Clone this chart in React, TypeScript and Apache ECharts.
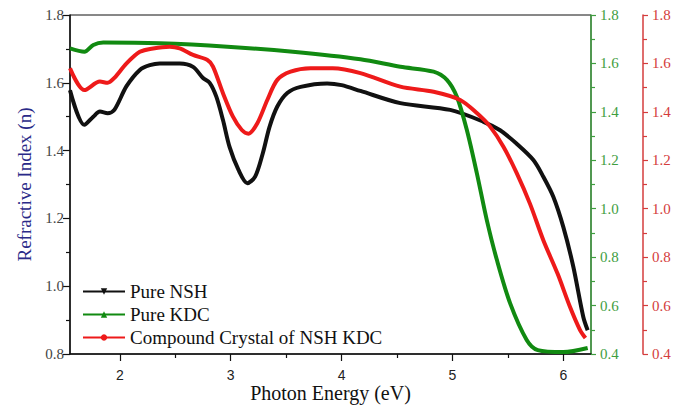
import React, { useEffect, useRef } from "react";
import * as echarts from "echarts";

const energyNSH = [1.55, 1.68, 1.76, 1.82, 1.89, 1.95, 2.06, 2.18, 2.27, 2.36, 2.54, 2.66, 2.75, 2.81, 2.87, 2.93, 2.99, 3.07, 3.15, 3.22, 3.29, 3.35, 3.42, 3.51, 3.63, 3.87, 4.0, 4.17, 4.53, 4.98, 5.28, 5.43, 5.58, 5.73, 5.82, 5.91, 6.0, 6.09, 6.18, 6.22];
const pureNSH = [1.578, 1.476, 1.5, 1.515, 1.51, 1.52, 1.59, 1.638, 1.652, 1.657, 1.657, 1.647, 1.614, 1.6, 1.559, 1.49, 1.41, 1.343, 1.304, 1.323, 1.393, 1.47, 1.53, 1.57, 1.588, 1.598, 1.593, 1.576, 1.54, 1.52, 1.485, 1.46, 1.42, 1.372, 1.323, 1.264, 1.175, 1.058, 0.91, 0.87];

const energyKDC = [1.55, 1.68, 1.76, 1.85, 2.36, 2.97, 3.56, 4.17, 4.53, 4.83, 4.95, 5.04, 5.13, 5.22, 5.31, 5.4, 5.52, 5.67, 5.77, 6.0, 6.22];
const pureKDC = [1.662, 1.648, 1.676, 1.686, 1.683, 1.669, 1.648, 1.617, 1.586, 1.566, 1.532, 1.462, 1.325, 1.147, 0.953, 0.79, 0.61, 0.458, 0.416, 0.408, 0.425];

const energyMix = [1.55, 1.68, 1.82, 1.89, 1.95, 2.06, 2.18, 2.3, 2.45, 2.54, 2.66, 2.79, 2.84, 2.93, 3.02, 3.1, 3.16, 3.24, 3.33, 3.42, 3.54, 3.72, 3.92, 4.17, 4.53, 4.83, 5.07, 5.22, 5.34, 5.46, 5.58, 5.7, 5.82, 5.95, 6.06, 6.15, 6.2];
const compound = [1.58, 1.49, 1.525, 1.52, 1.54, 1.6, 1.648, 1.662, 1.669, 1.662, 1.635, 1.614, 1.587, 1.477, 1.38, 1.325, 1.31, 1.353, 1.449, 1.532, 1.566, 1.58, 1.58, 1.56, 1.504, 1.483, 1.449, 1.395, 1.339, 1.256, 1.147, 1.02, 0.87, 0.73, 0.595, 0.5, 0.466];

const xMajorTicks = [2, 3, 4, 5, 6];
const xMinorTicks = [2.5, 3.5, 4.5, 5.5];
const seriesNames = ["Pure NSH", "Pure KDC", "Compound Crystal of NSH KDC"];

const SERIF = "'Liberation Serif', 'Times New Roman', serif";
const SANS = "'Liberation Sans', Arial, sans-serif";
const BLACK = "#111111";
const GREEN = "#118a11";
const RED = "#ee1a1a";
const GREEN_AX = "#3f9e3f";
const RED_AX = "#d43c3c";

const zip = (xs: number[], ys: number[]) => xs.map((x, i) => [x, ys[i]]);

export default function App() {
  const ref = useRef<HTMLDivElement>(null);
  useEffect(() => {
    if (!ref.current) return;
    const chart = echarts.init(ref.current, null, { renderer: "svg" });
    const rightAxis = (color: string, offset: number) => ({
      type: "value",
      position: "right",
      offset,
      min: 0.4,
      max: 1.8,
      interval: 0.2,
      axisLine: { show: true, lineStyle: { color, width: 1.5 } },
      axisTick: { show: true, length: 5, inside: false, lineStyle: { color, width: 1.2 } },
      minorTick: { show: true, splitNumber: 2, length: 4, lineStyle: { color, width: 1.2 } },
      axisLabel: { color, fontFamily: SERIF, fontSize: 15, margin: 9, formatter: (v: number) => v.toFixed(1) },
      splitLine: { show: false },
    });
    chart.setOption({
      animation: false,
      grid: {
        left: 70,
        right: 100,
        top: 15,
        bottom: 52,
        containLabel: false,
        outerBoundsMode: "none",
        show: true,
        borderColor: "#111",
        borderWidth: 1,
        backgroundColor: "transparent",
      },
      legend: {
        orient: "vertical",
        left: 77,
        top: 277,
        itemWidth: 42,
        itemHeight: 8,
        itemGap: 4,
        data: seriesNames,
        textStyle: { fontFamily: SERIF, fontSize: 19, color: "#111", lineHeight: 19 },
      },
      xAxis: [
        {
          type: "value",
          min: 1.55,
          max: 6.25,
          name: "Photon Energy (eV)",
          nameLocation: "middle",
          nameGap: 29,
          nameMoveOverlap: false,
          nameTextStyle: { fontFamily: SERIF, fontSize: 20, color: "#111" },
          axisLine: { show: true, lineStyle: { color: "#111", width: 1.5 } },
          axisTick: { show: true, length: 7, customValues: xMajorTicks, lineStyle: { color: "#111", width: 1.2 } },
          axisLabel: { customValues: xMajorTicks, fontFamily: SANS, fontSize: 14, color: "#222", margin: 14 },
          splitLine: { show: false },
        },
        {
          type: "value",
          min: 1.55,
          max: 6.25,
          position: "bottom",
          axisLine: { show: false },
          axisTick: { show: true, length: 4, customValues: xMinorTicks, lineStyle: { color: "#111", width: 1.2 } },
          axisLabel: { show: false },
          splitLine: { show: false },
        },
      ],
      yAxis: [
        {
          type: "value",
          position: "left",
          min: 0.8,
          max: 1.8,
          interval: 0.2,
          name: "Refractive Index (n)",
          nameLocation: "middle",
          nameGap: 36,
          nameTextStyle: { fontFamily: SERIF, fontSize: 19, color: "#2a2a88" },
          axisLine: { show: true, lineStyle: { color: "#111", width: 1.5 } },
          axisTick: { show: true, length: 7, lineStyle: { color: "#111", width: 1.2 } },
          minorTick: { show: true, splitNumber: 2, length: 4, lineStyle: { color: "#111", width: 1.2 } },
          axisLabel: { fontFamily: SERIF, fontSize: 15, color: "#444", margin: 6, formatter: (v: number) => v.toFixed(1) },
          splitLine: { show: false },
        },
        rightAxis(GREEN_AX, 0),
        rightAxis(RED_AX, 52),
      ],
      series: [
        {
          name: seriesNames[0],
          type: "line",
          xAxisIndex: 0,
          yAxisIndex: 0,
          data: zip(energyNSH, pureNSH),
          smooth: 0.3,
          symbol: "triangle",
          symbolRotate: 180,
          symbolSize: 6,
          showSymbol: false,
          lineStyle: { color: BLACK, width: 4 },
          itemStyle: { color: BLACK },
        },
        {
          name: seriesNames[1],
          type: "line",
          xAxisIndex: 0,
          yAxisIndex: 1,
          data: zip(energyKDC, pureKDC),
          smooth: 0.3,
          symbol: "triangle",
          symbolSize: 6,
          showSymbol: false,
          lineStyle: { color: GREEN, width: 4 },
          itemStyle: { color: GREEN },
        },
        {
          name: seriesNames[2],
          type: "line",
          xAxisIndex: 0,
          yAxisIndex: 2,
          data: zip(energyMix, compound),
          smooth: 0.3,
          symbol: "circle",
          symbolSize: 5,
          showSymbol: false,
          lineStyle: { color: RED, width: 4 },
          itemStyle: { color: RED },
        },
      ],
    });
    return () => chart.dispose();
  }, []);
  return <div ref={ref} style={{ width: 691, height: 406, position: "absolute", left: 0, top: 0, background: "#fff" }} />;
}
